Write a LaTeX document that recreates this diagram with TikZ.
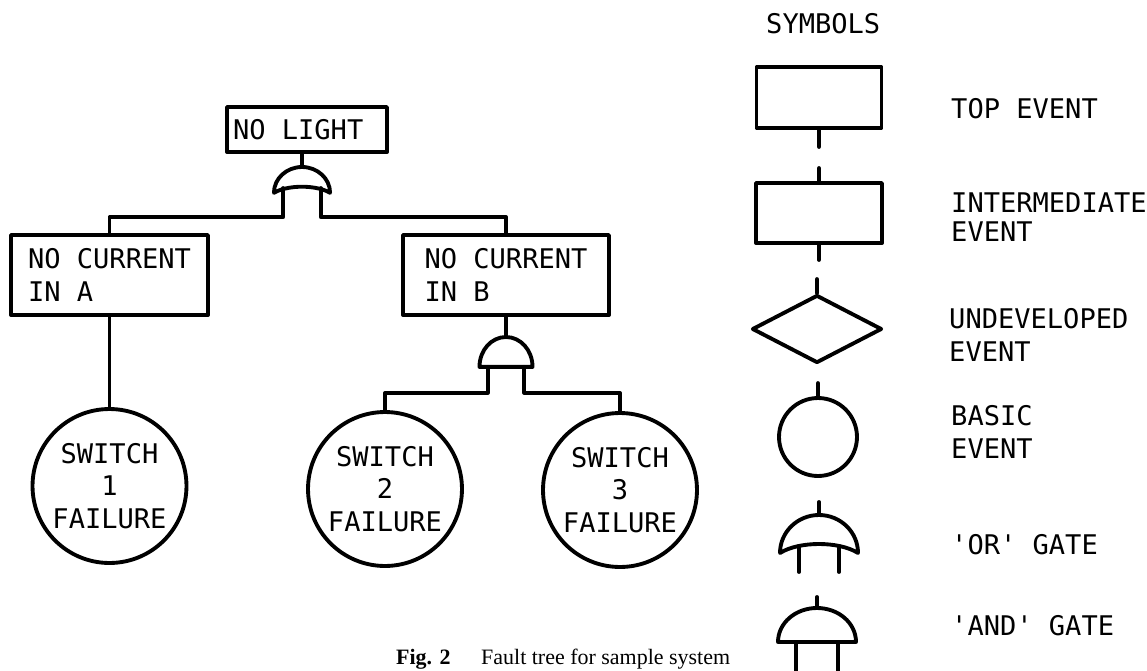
\documentclass[tikz,border=0pt]{standalone}
\usepackage{fontspec}
\setmainfont{Liberation Serif}
\setmonofont{DejaVu Sans Mono}
\usetikzlibrary{shapes.geometric}

\begin{document}
\begin{tikzpicture}[x=0.02cm, y=-0.02cm,
    txt/.style={font=\ttfamily\fontsize{15.4}{18.5}\selectfont},
    wire/.style={line width=2.2pt, line cap=round, line join=round},
    evbox/.style={rectangle, draw, wire, txt, align=left},
    basic/.style={circle, draw, wire, txt, align=center, inner sep=0pt, minimum size=3.08cm},
    undev/.style={diamond, draw, wire, inner sep=0pt, minimum width=2.6cm, minimum height=1.36cm},
    lab/.style={txt, anchor=west, align=left},
    gate/.style={draw, wire},
    orgate/.pic={
        \draw[gate] (-39,38) .. controls (-39,17) and (-21.5,0) .. (0,0)
            .. controls (21.5,0) and (39,17) .. (39,38)
            .. controls (20,26) and (-20,26) .. (-39,38) -- cycle;
        \coordinate (-top) at (0,0);
        \coordinate (-l) at (-#1,31);
        \coordinate (-r) at (#1,31);
    },
    andgate/.pic={
        \draw[gate] (-39,34) .. controls (-39,15) and (-21.5,0) .. (0,0)
            .. controls (21.5,0) and (39,15) .. (39,34) -- cycle;
        \coordinate (-top) at (0,0);
        \coordinate (-l) at (-#1,34);
        \coordinate (-r) at (#1,34);
    }]

    \useasboundingbox (0,0) rectangle (1147,670);

    % Top event
    \node[evbox, inner xsep=0.12cm, minimum height=0.9cm] (nl) at (307,129.5) {\makebox[2.96cm][l]{NO LIGHT}};
    \pic[xscale=0.72, yscale=0.68] (g1) at (302,167) {orgate=26};

    % Intermediate events
    \node[evbox, minimum width=3.94cm, minimum height=1.6cm] (na) at (109.5,275) {NO CURRENT\\IN A};
    \node[evbox, minimum width=4.12cm, minimum height=1.6cm] (nb) at (506,275) {NO CURRENT\\IN B};
    \pic[xscale=0.68, yscale=0.88] (g2) at (506,337) {andgate=27};

    % Basic events
    \node[basic] (c1) at (109.5,486) {SWITCH\\1\\FAILURE};
    \node[basic] (c2) at (385,489) {SWITCH\\2\\FAILURE};
    \node[basic] (c3) at (620,490) {SWITCH\\3\\FAILURE};

    \draw[wire] (g1-top) -- (g1-top |- nl.south);
    \draw[wire] (g1-l) -- ++(0,29) -| (na.north);
    \draw[wire] (g1-r) -- ++(0,29) -| (nb.north);
    \draw[wire] (na.south) -- (c1.north);
    \draw[wire] (nb.south) -- (g2-top);
    \draw[wire] (g2-l) -- ++(0,26) -| (c2.north);
    \draw[wire] (g2-r) -- ++(0,26) -| (c3.north);

    % Caption
    \node[anchor=base west, font=\fontsize{12.5}{15}\selectfont] (cap) at (390,664)
        {\textbf{Fig. 2}\hspace{1.4em}Fault tree for sample system};

    % Symbols
    \node[txt, anchor=west] (sym) at (760,24) {SYMBOLS};

    \node[evbox, minimum width=2.5cm, minimum height=1.22cm] (ltop) at (819,97.5) {};
    \draw[wire] (ltop.south) -- ++(0,17);
    \node[lab] (ttop) at (945,109) {TOP EVENT};

    \node[evbox, minimum width=2.52cm, minimum height=1.2cm] (lint) at (819,213) {};
    \draw[wire] (lint.north) -- ++(0,-13);
    \draw[wire] (lint.south) -- ++(0,15);
    \node[lab] (tint) at (945,217) {INTERMEDIATE\\[-2pt]EVENT};

    \node[undev] (ldia) at (817,329) {};
    \draw[wire] (ldia.north) -- ++(0,-14);
    \node[lab] (tund) at (943,335) {UNDEVELOPED\\EVENT};

    \node[basic, minimum size=1.56cm] (lbas) at (818,437) {};
    \draw[wire] (lbas.north) -- ++(0,-13);
    \node[lab] (tbas) at (945,432) {BASIC\\EVENT};

    \pic (lor) at (819,515) {orgate=20};
    \draw[wire] (lor-top) -- ++(0,-13);
    \draw[wire] (lor-l) -- ++(0,26);
    \draw[wire] (lor-r) -- ++(0,26);
    \node[lab] (tor) at (945,545) {'OR' GATE};

    \pic (land) at (817,608) {andgate=21};
    \draw[wire] (land-top) -- ++(0,-11);
    \draw[wire] (land-l) -- ++(0,32);
    \draw[wire] (land-r) -- ++(0,32);
    \node[lab] (tand) at (945,626) {'AND' GATE};
\end{tikzpicture}
\end{document}
